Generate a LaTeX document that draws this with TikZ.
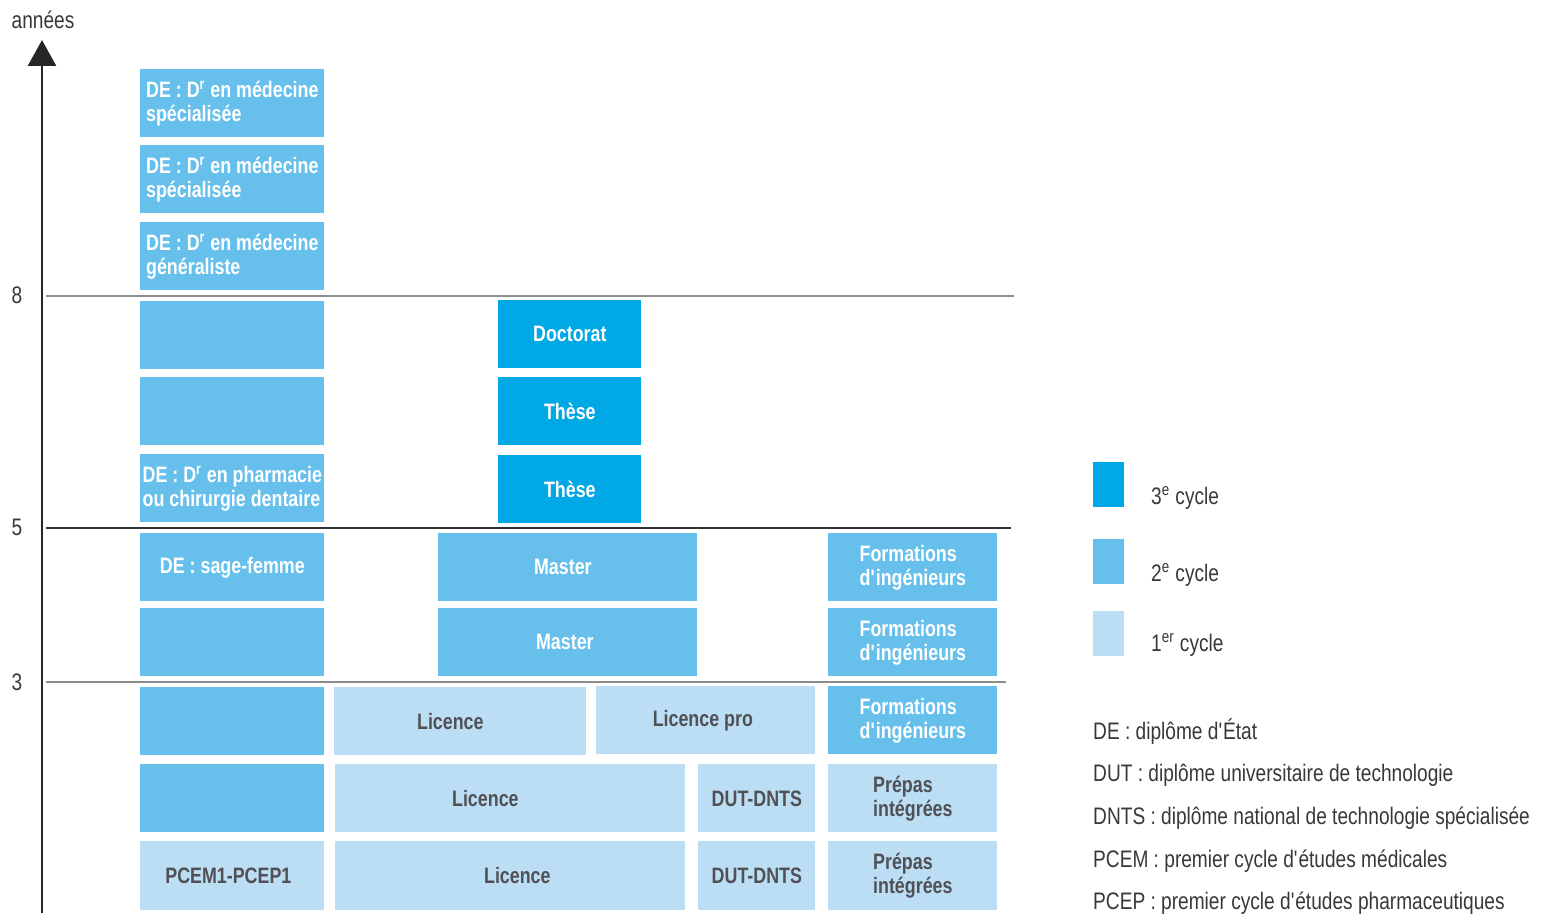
\documentclass[tikz,border=0pt]{standalone}
\usepackage{fontspec}
\setmainfont{Liberation Sans}[FakeStretch=0.8]
\usetikzlibrary{arrows.meta}
\definecolor{bleuFonce}{RGB}{0,168,230}
\definecolor{bleuMoyen}{RGB}{103,192,236}
\definecolor{bleuClair}{RGB}{187,222,245}
\definecolor{grisTexte}{RGB}{80,80,85}
\definecolor{grisLigne}{RGB}{140,140,140}
\tikzset{
	cycle3/.style={fill=bleuFonce, text=white, font=\bfseries\fontsize{12.7}{13.6}\selectfont},
	cycle2/.style={fill=bleuMoyen, text=white, font=\bfseries\fontsize{12.7}{13.6}\selectfont},
	cycle1/.style={fill=bleuClair, text=grisTexte, font=\bfseries\fontsize{12.7}{13.6}\selectfont},
	legende/.style={anchor=west, text=black!78, font=\fontsize{13.6}{15}\selectfont},
	palier/.style={draw=grisLigne, line width=1.2pt}
}
\newcommand{\apo}{\textquotesingle}
% boite : nom, style, x, y, largeur, hauteur, texte
\newcommand{\boite}[7]{\node[#2, anchor=north west, inner sep=0pt, align=left,
	minimum width=#5*0.02cm, minimum height=#6*0.02cm] (#1) at (#3,#4) {#7};}
\begin{document}
\begin{tikzpicture}[x=0.02cm, y=-0.02cm]
	\useasboundingbox (0,0) rectangle (1544,913);
	% axe des annees
	\coordinate (base) at (42,913);
	\coordinate (sommet) at (42,40);
	\draw[line width=1.6pt, draw=black!85, -{Triangle[width=0.56cm, length=0.52cm]}] (base) -- (sommet);
	\node[legende, anchor=center] (annees) at (43,20) {années};
	
	% paliers
	\coordinate (p8g) at (46,296); \coordinate (p8d) at (1014,296);
	\coordinate (p5g) at (46,528); \coordinate (p5d) at (1011,528);
	\coordinate (p3g) at (46,682); \coordinate (p3d) at (1006,682);
	\draw[palier] (p8g) -- (p8d);
	\draw[palier, draw=black!80] (p5g) -- (p5d);
	\draw[palier] (p3g) -- (p3d);
	\node[legende, anchor=center] (n8) at (17,295) {8};
	\node[legende, anchor=center] (n5) at (17,527) {5};
	\node[legende, anchor=center] (n3) at (17,682) {3};
	
	% colonne sante
	\boite{med11}{cycle2}{140}{69}{184}{68}{DE : D\textsuperscript{r} en médecine\\spécialisée}
	\boite{med10}{cycle2}{140}{145}{184}{68}{DE : D\textsuperscript{r} en médecine\\spécialisée}
	\boite{med9}{cycle2}{140}{222}{184}{68}{DE : D\textsuperscript{r} en médecine\\généraliste}
	\boite{med8}{cycle2}{140}{301}{184}{68}{}
	\boite{med7}{cycle2}{140}{377}{184}{68}{}
	\boite{med6}{cycle2}{140}{454}{184}{68}{DE : D\textsuperscript{r} en pharmacie\\ou chirurgie dentaire}
	\boite{med5}{cycle2}{140}{533}{184}{68}{DE : sage-femme}
	\boite{med4}{cycle2}{140}{608}{184}{68}{}
	\boite{med3}{cycle2}{140}{687}{184}{68}{}
	\boite{med2}{cycle2}{140}{764}{184}{68}{}
	\boite{med1}{cycle1}{140}{841}{184}{69}{PCEM1-PCEP1\hspace*{0.16cm}}
	
	% colonne universite
	\boite{doct}{cycle3}{498}{300}{143}{68}{Doctorat}
	\boite{these2}{cycle3}{498}{377}{143}{68}{Thèse}
	\boite{these1}{cycle3}{498}{455}{143}{68}{Thèse}
	\boite{master2}{cycle2}{438}{533}{259}{68}{Master\hspace*{0.2cm}}
	\boite{master1}{cycle2}{438}{608}{259}{68}{Master\hspace*{0.12cm}}
	\boite{lic3}{cycle1}{334}{687}{252}{68}{Licence\hspace*{0.4cm}}
	\boite{licpro}{cycle1}{596}{686}{219}{68}{Licence pro\hspace*{0.12cm}}
	\boite{lic2}{cycle1}{335}{764}{350}{68}{Licence\hspace*{1cm}}
	\boite{dut2}{cycle1}{698}{764}{117}{68}{DUT-DNTS}
	\boite{lic1}{cycle1}{335}{841}{350}{69}{\hspace*{0.28cm}Licence}
	\boite{dut1}{cycle1}{698}{841}{117}{69}{DUT-DNTS}
	
	% colonne ingenieurs
	\boite{ing5}{cycle2}{828}{533}{169}{68}{Formations\\d\apo ingénieurs}
	\boite{ing4}{cycle2}{828}{608}{169}{68}{Formations\\d\apo ingénieurs}
	\boite{ing3}{cycle2}{828}{686}{169}{68}{Formations\\d\apo ingénieurs}
	\boite{prepa2}{cycle1}{828}{764}{169}{68}{Prépas\\intégrées}
	\boite{prepa1}{cycle1}{828}{841}{169}{69}{Prépas\\intégrées}
	
	% legende
	\fill[bleuFonce] (1093,462) rectangle (1124,507) coordinate (c3);
	\fill[bleuMoyen] (1093,539) rectangle (1124,584) coordinate (c2);
	\fill[bleuClair] (1093,611) rectangle (1124,656) coordinate (c1);
	\node[legende] (l3) at (1145,498) {3\textsuperscript{e} cycle};
	\node[legende] (l2) at (1145,575) {2\textsuperscript{e} cycle};
	\node[legende] (l1) at (1145,645) {1\textsuperscript{er} cycle};
	
	\node[legende] (de) at (1087,732) {DE : diplôme d\apo État};
	\node[legende] (dut) at (1087,775) {DUT : diplôme universitaire de technologie};
	\node[legende] (dnts) at (1087,818) {DNTS : diplôme national de technologie spécialisée};
	\node[legende] (pcem) at (1087,861) {PCEM : premier cycle d\apo études médicales};
	\node[legende] (pcep) at (1087,903) {PCEP : premier cycle d\apo études pharmaceutiques};
\end{tikzpicture}
\end{document}
